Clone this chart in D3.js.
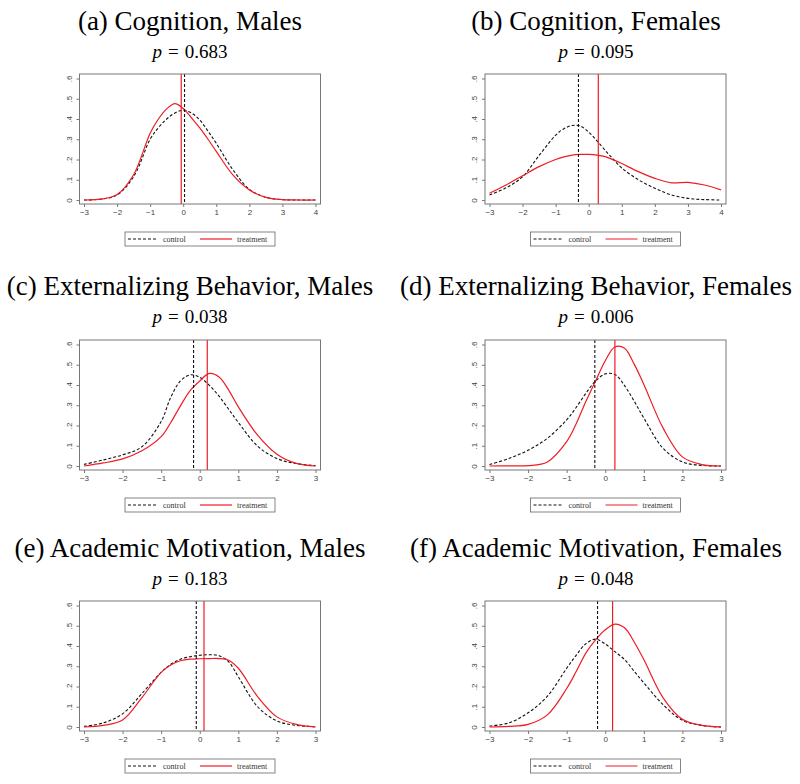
<!DOCTYPE html>
<html>
<head>
<meta charset="utf-8">
<script src="https://d3js.org/d3.v7.min.js"></script>
<style>
  body { margin: 0; background: #fff; }
  svg { display: block; }
</style>
</head>
<body>
<div id="chart"></div>
<script>
// Grid of x positions at which the densities were read
const xsWide = [-3, -2.5, -2, -1.5, -1, -0.75, -0.5, -0.25, 0, 0.25, 0.5, 0.75, 1, 1.5, 2, 2.5, 3, 3.5, 4];
const xsNarrow = [-3, -2.5, -2, -1.5, -1, -0.75, -0.5, -0.25, 0, 0.25, 0.5, 0.75, 1, 1.5, 2, 2.5, 3];

// (a) Cognition, Males
const cogMaleControl   = [0, 0.004, 0.025, 0.115, 0.30, 0.357, 0.40, 0.43, 0.443, 0.43, 0.395, 0.34, 0.28, 0.15, 0.053, 0.013, 0.002, 0, 0];
const cogMaleTreatment = [0, 0.004, 0.027, 0.125, 0.33, 0.40, 0.45, 0.476, 0.452, 0.406, 0.356, 0.30, 0.24, 0.124, 0.05, 0.013, 0.002, 0, 0];
// (b) Cognition, Females
const cogFemaleControl   = [0.025, 0.06, 0.115, 0.22, 0.32, 0.352, 0.368, 0.365, 0.335, 0.292, 0.245, 0.2, 0.158, 0.1, 0.058, 0.025, 0.008, 0.002, 0];
const cogFemaleTreatment = [0.033, 0.074, 0.12, 0.165, 0.2, 0.213, 0.222, 0.225, 0.225, 0.222, 0.214, 0.198, 0.18, 0.14, 0.107, 0.085, 0.087, 0.074, 0.05];
// (c) Externalizing Behavior, Males
const extMaleControl   = [0.008, 0.03, 0.055, 0.095, 0.22, 0.34, 0.42, 0.45, 0.438, 0.398, 0.345, 0.28, 0.215, 0.098, 0.037, 0.012, 0.002];
const extMaleTreatment = [0, 0.015, 0.035, 0.075, 0.145, 0.215, 0.297, 0.372, 0.42, 0.457, 0.44, 0.375, 0.292, 0.152, 0.058, 0.013, 0];
// (d) Externalizing Behavior, Females
const extFemaleControl   = [0.007, 0.037, 0.078, 0.137, 0.228, 0.29, 0.36, 0.42, 0.455, 0.452, 0.397, 0.32, 0.237, 0.087, 0.02, 0.003, 0];
const extFemaleTreatment = [0, 0.001, 0.002, 0.02, 0.12, 0.21, 0.32, 0.42, 0.52, 0.588, 0.582, 0.503, 0.403, 0.187, 0.045, 0.007, 0];
// (e) Academic Motivation, Males
const motMaleControl   = [0.003, 0.02, 0.065, 0.165, 0.27, 0.31, 0.335, 0.347, 0.354, 0.357, 0.352, 0.322, 0.248, 0.1, 0.03, 0.008, 0.001];
const motMaleTreatment = [0, 0.008, 0.035, 0.145, 0.27, 0.306, 0.327, 0.335, 0.337, 0.338, 0.338, 0.33, 0.29, 0.15, 0.05, 0.013, 0.001];
// (f) Academic Motivation, Females
const motFemaleControl   = [0.005, 0.02, 0.07, 0.152, 0.29, 0.355, 0.412, 0.434, 0.41, 0.372, 0.333, 0.275, 0.218, 0.11, 0.033, 0.008, 0];
const motFemaleTreatment = [0, 0.003, 0.013, 0.06, 0.19, 0.275, 0.366, 0.43, 0.48, 0.508, 0.49, 0.42, 0.333, 0.144, 0.038, 0.008, 0];

// Panel labels, p-values and group means (vertical lines)
const titles = ["(a) Cognition, Males", "(b) Cognition, Females",
                "(c) Externalizing Behavior, Males", "(d) Externalizing Behavior, Females",
                "(e) Academic Motivation, Males", "(f) Academic Motivation, Females"];
const pValues = ["0.683", "0.095", "0.038", "0.006", "0.183", "0.048"];
const controlMeans   = [0.04, -0.31, -0.16, -0.27, -0.09, -0.2];
const treatmentMeans = [-0.06, 0.29, 0.195, 0.25, 0.11, 0.19];
const xMaxes = [4, 4, 3, 3, 3, 3];
const yTicks = [0, 0.1, 0.2, 0.3, 0.4, 0.5, 0.6];
const legendLabels = ["control", "treatment"];

const controls   = [cogMaleControl, cogFemaleControl, extMaleControl, extFemaleControl, motMaleControl, motFemaleControl];
const treatments = [cogMaleTreatment, cogFemaleTreatment, extMaleTreatment, extFemaleTreatment, motMaleTreatment, motFemaleTreatment];

const width = 800, height = 784;
const colCenter = [190, 596];
const frameLeft = [79.5, 485];
const frameW = 241;
const frameTop = [74, 340, 601];
const frameH = 130;
const titleBase = [30, 295, 557];
const RED = "#ee1c25";

const svg = d3.select("#chart").append("svg")
  .attr("width", width)
  .attr("height", height);

const yFmt = d => d === 0 ? "0" : d3.format(".1f")(d).replace(/^0/, "");

titles.forEach((title, i) => {
  const col = i % 2, row = Math.floor(i / 2);
  const xs = xMaxes[i] === 4 ? xsWide : xsNarrow;
  const left = frameLeft[col], top = frameTop[row];

  // titles
  svg.append("text")
    .attr("x", colCenter[col]).attr("y", titleBase[row])
    .attr("text-anchor", "middle")
    .style("font-family", "'Liberation Serif', serif")
    .style("font-size", "27px")
    .text(title);

  const pt = svg.append("text")
    .attr("x", colCenter[col]).attr("y", titleBase[row] + 28)
    .attr("text-anchor", "middle")
    .style("font-family", "'Liberation Serif', serif")
    .style("font-size", "19px");
  pt.append("tspan").style("font-style", "italic").text("p");
  pt.append("tspan").attr("dx", 6).text("=");
  pt.append("tspan").attr("dx", 6).text(pValues[i]);

  const g = svg.append("g").attr("transform", `translate(${left},${top})`);

  const x = d3.scaleLinear().domain([-3, xMaxes[i]]).range([4.5, frameW - 5]);
  const y = d3.scaleLinear().domain([0, 0.6]).range([frameH - 4, 4.5]);

  // axes
  const xAxis = g.append("g").attr("transform", `translate(0,${frameH})`)
    .call(d3.axisBottom(x).ticks(xMaxes[i] + 3).tickSize(3).tickPadding(2).tickFormat(d3.format("d")));
  const yAxis = g.append("g")
    .call(d3.axisLeft(y).tickValues(yTicks).tickSize(3).tickPadding(2).tickFormat(yFmt));
  [xAxis, yAxis].forEach(a => {
    a.select(".domain").remove();
    a.selectAll("line").attr("stroke", "#777");
    a.selectAll("text")
      .attr("fill", "#444")
      .style("font-family", "'Liberation Sans', sans-serif")
      .style("font-size", "8px");
  });
  yAxis.selectAll(".tick text")
    .attr("text-anchor", "middle")
    .attr("x", 0).attr("dy", 0)
    .attr("transform", "translate(-8,0) rotate(-90)");

  // curves
  const line = d3.line()
    .x((d, k) => x(xs[k]))
    .y(d => y(d))
    .curve(d3.curveCatmullRom.alpha(0.5));

  g.append("path").datum(controls[i])
    .attr("d", line).attr("fill", "none")
    .attr("stroke", "#111").attr("stroke-width", 1.1)
    .attr("stroke-dasharray", "3,2");
  g.append("path").datum(treatments[i])
    .attr("d", line).attr("fill", "none")
    .attr("stroke", RED).attr("stroke-width", 1.2);

  // mean lines
  g.append("line")
    .attr("x1", x(controlMeans[i])).attr("x2", x(controlMeans[i]))
    .attr("y1", 0).attr("y2", frameH)
    .attr("stroke", "#111").attr("stroke-width", 1.1)
    .attr("stroke-dasharray", "3,2");
  g.append("line")
    .attr("x1", x(treatmentMeans[i])).attr("x2", x(treatmentMeans[i]))
    .attr("y1", 0).attr("y2", frameH)
    .attr("stroke", RED).attr("stroke-width", 1.2);

  // frame
  g.append("rect")
    .attr("width", frameW).attr("height", frameH)
    .attr("fill", "none").attr("stroke", "#777").attr("stroke-width", 1);

  // legend
  const lg = g.append("g").attr("transform", `translate(${frameW / 2 - 75},${frameH + 28})`);
  lg.append("rect").attr("width", 150).attr("height", 14)
    .attr("fill", "#fff").attr("stroke", "#666").attr("stroke-width", 0.8);
  lg.append("line").attr("x1", 3).attr("x2", 32).attr("y1", 7).attr("y2", 7)
    .attr("stroke", "#111").attr("stroke-width", 1.1).attr("stroke-dasharray", "3,2");
  lg.append("line").attr("x1", 75).attr("x2", 107).attr("y1", 7).attr("y2", 7)
    .attr("stroke", RED).attr("stroke-width", 1.2);
  [38, 112].forEach((lx, k) => {
    lg.append("text").attr("x", lx).attr("y", 10)
      .attr("fill", "#333")
      .style("font-family", "'Liberation Serif', serif")
      .style("font-size", "8px")
      .text(legendLabels[k]);
  });
});
</script>
</body>
</html>
